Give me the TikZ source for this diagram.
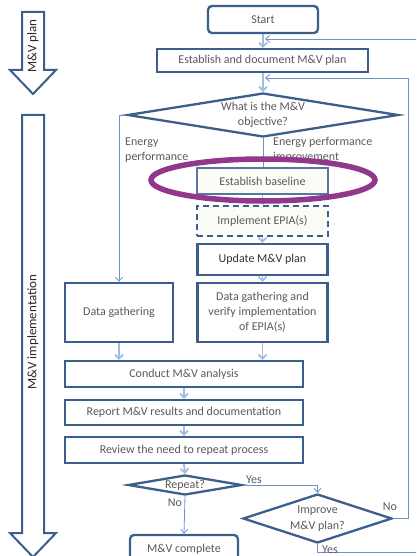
\documentclass[tikz,border=0pt]{standalone}
\usepackage{fontspec}
\setmainfont{Carlito}
\usetikzlibrary{shapes.geometric,arrows.meta}
\definecolor{frame}{RGB}{59,94,140}
\definecolor{thinln}{RGB}{110,146,200}
\definecolor{paleln}{RGB}{160,188,222}
\definecolor{txtgray}{RGB}{90,90,90}
\definecolor{ringcol}{RGB}{146,56,140}
\definecolor{softfill}{RGB}{252,252,246}
\tikzset{
  box/.style={draw=frame, line width=2.3pt, fill=white, inner sep=1pt,
    align=center, text=txtgray, font=\fontsize{12}{15}\selectfont},
  termbox/.style={box, rounded corners=4pt},
  choice/.style={draw=frame, line width=2.3pt, fill=white, shape=diamond,
    inner sep=0pt, align=center, text=txtgray, font=\fontsize{12}{15.5}\selectfont},
  thin/.style={draw=thinln, line width=0.8pt},
  thinarrow/.style={thin, -{Straight Barb[length=4pt,width=7pt]}},
  flowarrow/.style={draw=paleln, line width=1.8pt, -{Straight Barb[length=4pt,width=8pt]}},
  tag/.style={text=txtgray, font=\fontsize{12}{15}\selectfont, inner sep=0pt},
  phase/.style={draw=frame, line width=2pt, fill=white, line join=miter},
  phaselbl/.style={rotate=90, text=black!85, font=\fontsize{13}{15}\selectfont},
}
\begin{document}
\begin{tikzpicture}[x=1pt,y=-1pt]
\useasboundingbox (0,0) rectangle (416,556);
\clip (0,0) rectangle (416,556);

% phase arrows on the left
\draw[phase] (22,12) -- (44,12) -- (44,70) -- (56,70) -- (33,94) -- (10,70) -- (22,70) -- cycle;
\node[phaselbl] (planlbl) at (33,46) {M\&V plan};
\draw[phase] (22,115) -- (44,115) -- (44,533) -- (56,533) -- (33,557) -- (10,533) -- (22,533) -- cycle;
\node[phaselbl] (impllbl) at (33,332) {M\&V implementation};

% main flow
\node[termbox, minimum width=110pt, minimum height=27pt] (start) at (263,19.5) {Start};
\node[box, minimum width=211pt, minimum height=23pt] (plan) at (262.5,60.5) {Establish and document M\&V plan};
\node[choice, aspect=6.1, minimum width=271pt, minimum height=44pt] (obj) at (263,115) {What is the M\&V\\objective?};
\node[box, draw=frame!85, line width=1.6pt, fill=softfill, minimum width=131pt, minimum height=26pt] (base) at (262.5,181) {Establish baseline};
\node[box, dashed, dash pattern=on 6pt off 4pt, line width=2pt, fill=softfill, minimum width=131pt, minimum height=30pt] (epia) at (262.5,221) {Implement EPIA(s)};
\node[box, text=black!80, minimum width=130pt, minimum height=31pt] (upd) at (262.5,259.5) {Update M\&V plan};
\node[box, minimum width=130pt, minimum height=59pt] (verify) at (262.5,312.5) {Data gathering and\\verify implementation\\of EPIA(s)};
\node[box, minimum width=108pt, minimum height=59pt] (gather) at (119,312.5) {Data gathering};
\node[box, minimum width=238pt, minimum height=26pt] (conduct) at (184,374) {Conduct M\&V analysis};
\node[box, minimum width=238pt, minimum height=25pt] (report) at (184,412.5) {Report M\&V results and documentation};
\node[box, minimum width=238pt, minimum height=26pt] (review) at (184,450) {Review the need to repeat process};
\node[choice, aspect=5.7, minimum width=114pt, minimum height=20pt] (repeat) at (185,485) {Repeat?};
\node[choice, aspect=3, minimum width=149pt, minimum height=49pt] (improve) at (317.5,518.5) {Improve\\M\&V plan?};
\node[termbox, minimum width=108pt, minimum height=28pt] (done) at (184,549) {M\&V complete};

% short arrows between stacked steps
\draw[flowarrow] (start.south) -- (start.south |- plan.north);
\draw[flowarrow] (plan.south -| obj.north) -- (obj.north);
\draw[thin] (obj.south) -- (base.north -| obj.south);
\draw[flowarrow] (base.south) -- (epia.north);
\draw[flowarrow] (epia.south) -- (upd.north);
\draw[flowarrow] (upd.south) -- (verify.north);
\draw[flowarrow] (gather.south) -- (gather.south |- conduct.north);
\draw[flowarrow] (verify.south) -- (verify.south |- conduct.north);
\draw[flowarrow] (conduct.south) -- (report.north);
\draw[flowarrow] (report.south) -- (review.north);
\draw[flowarrow] (review.south) -- (repeat.north);

% branches
\coordinate (lbend) at (119,115);
\draw[thinarrow] (obj.west) -- (lbend) -- (gather.north);
\coordinate (yesbend) at (317.5,485);
\draw[thinarrow] (repeat.east) -- (yesbend) -- (improve.north);
\draw[thinarrow] (repeat.south) -- (done.north);

% loops back to the top
\coordinate (noright) at (408,518.5);
\coordinate (notop) at (408,78);
\coordinate (nohit) at (265,78);
\draw[thinarrow] (improve.east) -- (noright) -- (notop) -- (nohit);
\coordinate (yesdown) at (317.5,552);
\coordinate (yesright) at (417,552);
\coordinate (yestop) at (417,39);
\coordinate (yeshit) at (265,39);
\draw[thinarrow] (improve.south) -- (yesdown) -- (yesright) -- (yestop) -- (yeshit);

% branch labels
\node[tag, anchor=west, align=left] (lblep) at (125,150) {Energy\\performance};
\node[tag, anchor=west, align=left] (lblepi) at (273,150) {Energy performance\\improvement};
\node[tag] (lblyes1) at (254,480) {Yes};
\node[tag] (lblno1) at (175,503) {No};
\node[tag] (lblno2) at (390,507) {No};
\node[tag] (lblyes2) at (330,550) {Yes};

% highlight ring
\draw[ringcol, line width=5.5pt] (263,180) ellipse [x radius=112pt, y radius=21pt];
\end{tikzpicture}
\end{document}
